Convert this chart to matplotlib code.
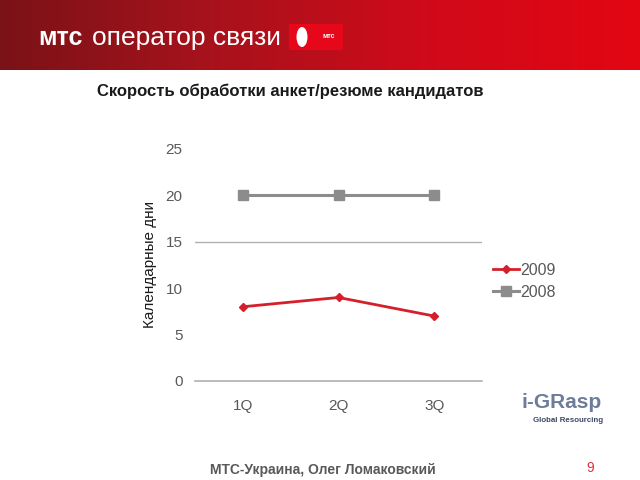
import matplotlib
matplotlib.use("Agg")
import matplotlib.pyplot as plt
import numpy as np
from matplotlib.patches import Rectangle, Ellipse
from matplotlib.colors import LinearSegmentedColormap

categories = ["1Q", "2Q", "3Q"]
s2009 = [8, 9, 7]
s2008 = [20, 20, 20]
yticks = [0, 5, 10, 15, 20, 25]

plt.rcParams['font.family'] = ['Liberation Sans', 'DejaVu Sans']

fig = plt.figure(figsize=(6.4, 4.8), dpi=100)

# Header banner
hax = fig.add_axes([0, 1 - 70/480, 1, 70/480])
grad = np.linspace(0, 1, 256).reshape(1, -1)
cmap = LinearSegmentedColormap.from_list("b", ["#7a1317", "#a8121c", "#d00a1a", "#e30613"])
hax.imshow(grad, aspect='auto', cmap=cmap, extent=[0, 1, 0, 1])
hax.set_xlim(0, 1); hax.set_ylim(0, 1)
hax.axis('off')
fig.text(38/640, 1 - 38/480, "мтс", color="white", fontsize=18, fontweight="bold", va="center", ha="left")
fig.text(92/640, 1 - 38/480, "оператор связи", color="white", fontsize=19, va="center", ha="left")
# logo square
fig.patches.append(Rectangle((289/640, 1 - 50/480), 54/640, 26/480, transform=fig.transFigure,
                             facecolor="#e6081a", edgecolor="none"))
fig.patches.append(Ellipse((302/640, 1 - 37/480), 11/640, 20/480, transform=fig.transFigure,
                           facecolor="white", edgecolor="none"))
fig.text(329/640, 1 - 37/480, "мтс", color="white", fontsize=5, fontweight="bold", va="center", ha="center")

# Title
fig.text(290/640, 1 - 91/480, "Скорость обработки анкет/резюме кандидатов", fontsize=12,
         fontweight="bold", ha="center", va="center", color="#1a1a1a")

ax = fig.add_axes([195/640, 99/480, 287/640, 232/480])
x = np.arange(len(categories))
ax.plot(x, s2009, color="#d4202a", marker="D", markersize=4, linewidth=2, label="2009")
ax.plot(x, s2008, color="#8c8c8c", marker="s", markersize=7, linewidth=2.2, label="2008")
ax.set_xlim(-0.5, 2.5)
ax.set_ylim(0, 25)
ax.set_yticks(yticks)
ax.set_xticks(x)
ax.set_xticklabels(categories)
for sp in ax.spines.values():
    sp.set_visible(False)
ax.axhline(15, color="#b0b0b0", linewidth=1, zorder=0)
ax.axhline(0, color="#b0b0b0", linewidth=1.2, zorder=0, clip_on=False)
ax.tick_params(length=0, labelsize=11, colors="#595959", pad=13)
ax.tick_params(axis='y', pad=9)
ax.set_ylabel("Календарные дни", fontsize=11, color="#1a1a1a", labelpad=6)
leg = ax.legend(loc="center left", bbox_to_anchor=(1.0, 0.43), frameon=False, fontsize=11.5,
                handlelength=1.6, handletextpad=0.1, labelspacing=0.45, borderaxespad=0.3)
for t in leg.get_texts():
    t.set_color("#595959")

# i-GRasp logo
fig.text(562/640, 1 - 403/480, "i-GRasp", fontsize=15, fontweight="bold", color="#6e7c9c",
         ha="center", va="center")
fig.text(568/640, 1 - 420/480, "Global Resourcing", fontsize=5.7, fontweight="bold", color="#3c4868",
         ha="center", va="center")

# Footer
fig.text(323/640, 1 - 470/480, "МТС-Украина, Олег Ломаковский", fontsize=10, fontweight="bold",
         color="#595959", ha="center", va="center")
fig.text(590/640, 1 - 468/480, "9", fontsize=10, color="#e0303a", ha="center", va="center")

fig.savefig("out.png", dpi=100)
